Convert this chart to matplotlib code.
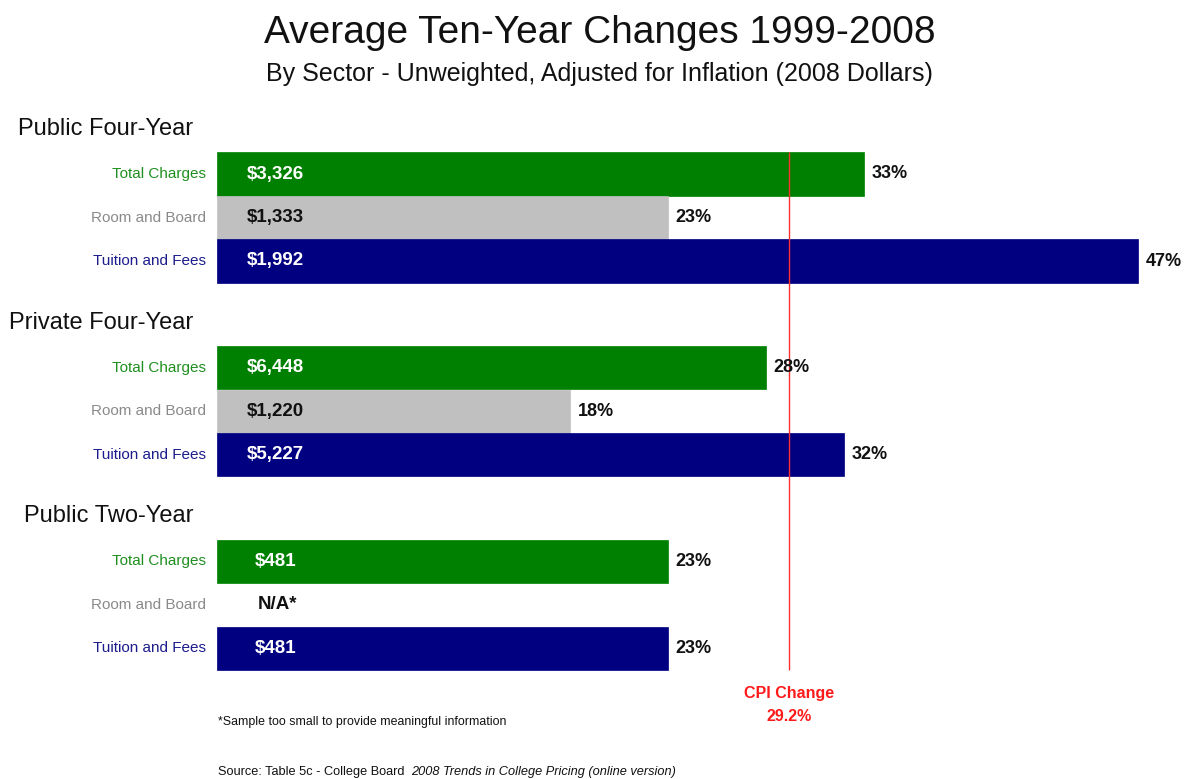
import matplotlib.pyplot as plt

plt.rcParams['font.family'] = ['Liberation Sans', 'DejaVu Sans']

# Ten-year changes by sector (2008 dollars)
sectors = ["Public Four-Year", "Private Four-Year", "Public Two-Year"]
items = ["Total Charges", "Room and Board", "Tuition and Fees"]
pct_change = [[33, 23, 47],
              [28, 18, 32],
              [23, None, 23]]
dollar_change = [[3326, 1333, 1992],
                 [6448, 1220, 5227],
                 [481, None, 481]]
cpi_change = 29.2

bar_colors = ["#008000", "#C0C0C0", "#000080"]
label_colors = ["#1f8f1f", "#8a8a8a", "#1c1c8c"]
value_colors = ["white", "#111111", "white"]

group_step = 4.45

fig = plt.figure(figsize=(11.85, 7.79), dpi=100)
ax = fig.add_axes([0, 0, 1, 1])
ax.set_xlim(-217 / 19.6, (1185 - 217) / 19.6)
ax.set_ylim((779 - 174) / 43.5, -174 / 43.5)
ax.axis("off")

for g, sector in enumerate(sectors):
    y0 = g * group_step
    ax.text(-1.22, y0 - 1.03, sector, ha="right", va="center", fontsize=17, color="#111111")
    for r, item in enumerate(items):
        y = y0 + r
        ax.text(-0.55, y, item, ha="right", va="center", fontsize=11, color=label_colors[r])
        pct = pct_change[g][r]
        if pct is None:
            ax.text(3.1, y, "N/A*", ha="center", va="center", fontsize=13.5,
                    fontweight="bold", color="#111111")
            continue
        ax.barh(y, pct, height=0.99, left=0, color=bar_colors[r],
                edgecolor=bar_colors[r], linewidth=0.5)
        ax.text(3.0, y, "${:,}".format(dollar_change[g][r]), ha="center", va="center",
                fontsize=13.5, fontweight="bold", color=value_colors[r])
        ax.text(pct + 0.4, y, "{:.0f}%".format(pct), ha="left", va="center",
                fontsize=13, fontweight="bold", color="#111111")

# CPI reference line
last = (len(sectors) - 1) * group_step + len(items) - 1
ax.vlines(cpi_change, -0.5, last + 0.5, color="#ff3030", linewidth=1.0)
ax.text(cpi_change, 11.95, "CPI Change", ha="center", va="center", fontsize=11.5,
        fontweight="bold", color="#ff1a1a")
ax.text(cpi_change, 12.46, "{:.1f}%".format(cpi_change), ha="center", va="center",
        fontsize=11.5, fontweight="bold", color="#ff1a1a")

# Titles
fig.text(0.506, 1 - 33 / 779, "Average Ten-Year Changes 1999-2008", ha="center", va="center",
         fontsize=28, color="#111111")
fig.text(0.506, 1 - 74 / 779, "By Sector - Unweighted, Adjusted for Inflation (2008 Dollars)",
         ha="center", va="center", fontsize=18, color="#111111")

# Notes
ax.text(0.05, 12.6, "*Sample too small to provide meaningful information", ha="left",
        va="center", fontsize=8.9, color="#111111")
src = ax.text(0.05, 13.74, "Source: Table 5c - College Board  ", ha="left", va="center",
              fontsize=9.2, color="#111111")
renderer = fig.canvas.get_renderer()
bb = src.get_window_extent(renderer=renderer)
ax.annotate("2008 Trends in College Pricing (online version)", xy=(0.05, 13.74),
            xytext=(bb.width, 0), textcoords="offset pixels", ha="left", va="center",
            fontsize=9.2, fontstyle="italic", color="#111111")

fig.savefig("out.png", dpi=100, facecolor="white")
